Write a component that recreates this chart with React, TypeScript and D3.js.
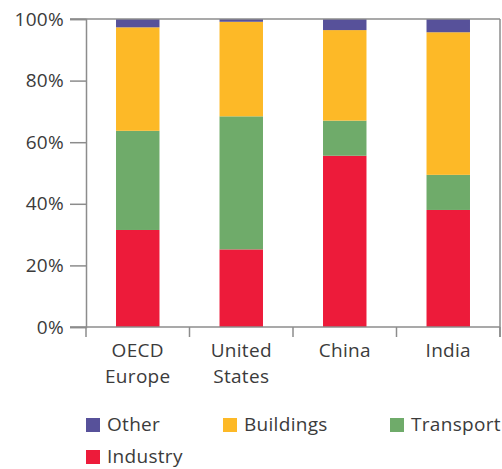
import React, { useRef, useEffect } from 'react';
import * as d3 from 'd3';

const categories = ['OECD Europe', 'United States', 'China', 'India'];
const categoryLines = [['OECD', 'Europe'], ['United', 'States'], ['China'], ['India']];
const seriesNames = ['Industry', 'Transport', 'Buildings', 'Other'];
const industry = [31.5, 25.2, 55.6, 38.0];
const transport = [32.2, 43.2, 11.4, 11.4];
const buildings = [33.6, 30.7, 29.4, 46.3];
const other = [2.7, 0.9, 3.6, 4.3];
const yTicks = [0, 20, 40, 60, 80, 100];
const legendOrder = ['Other', 'Buildings', 'Transport', 'Industry'];

const colors = {
  Industry: '#ED1B3A',
  Transport: '#6FAB6A',
  Buildings: '#FDB927',
  Other: '#57519A',
};

const width = 502;
const height = 469;
const left = 86;
const right = 500;
const top = 19;
const bottom = 327;
const font = '"Open Sans", sans-serif';
const fontSize = '19px';
const spacing = '0.3px';
const textColor = '#3b3b3b';
const axisColor = '#8c8c8c';

const App = () => {
  const svgRef = useRef(null);

  useEffect(() => {
    const svg = d3.select(svgRef.current);
    svg.selectAll('*').remove();

    const rows = categories.map((c, i) => ({
      name: c,
      Industry: industry[i],
      Transport: transport[i],
      Buildings: buildings[i],
      Other: other[i],
    }));

    const xScale = d3.scaleBand()
      .domain(categories)
      .range([left, right])
      .paddingInner(0.58)
      .paddingOuter(0.29);

    const band = d3.scaleBand().domain(categories).range([left, right]);

    const yScale = d3.scaleLinear()
      .domain([0, 100])
      .range([bottom, top]);

    const stack = d3.stack().keys(seriesNames);
    const layers = stack(rows as any);

    svg.append('g')
      .selectAll('g')
      .data(layers)
      .enter()
      .append('g')
      .attr('fill', d => colors[d.key])
      .selectAll('rect')
      .data(d => d)
      .enter()
      .append('rect')
      .attr('x', d => xScale(d.data.name))
      .attr('y', d => yScale(d[1]))
      .attr('width', xScale.bandwidth())
      .attr('height', d => yScale(d[0]) - yScale(d[1]));

    // frame
    svg.append('line')
      .attr('x1', 70).attr('x2', right)
      .attr('y1', top).attr('y2', top)
      .attr('stroke', axisColor).attr('stroke-width', 1.5);
    svg.append('line')
      .attr('x1', right).attr('x2', right)
      .attr('y1', top).attr('y2', bottom + 10)
      .attr('stroke', axisColor).attr('stroke-width', 1.5);

    const yAxis = d3.axisLeft(yScale)
      .tickValues(yTicks)
      .tickSize(16)
      .tickPadding(6)
      .tickFormat(d => `${d}%`);

    const yg = svg.append('g')
      .attr('transform', `translate(${left}, 0)`)
      .call(yAxis);
    yg.select('.domain').attr('stroke', axisColor).attr('stroke-width', 1.5);
    yg.selectAll('.tick line').attr('stroke', axisColor).attr('stroke-width', 1.5);
    yg.selectAll('.tick text')
      .attr('fill', textColor)
      .style('font-family', font)
      .style('font-size', fontSize)
      .style('letter-spacing', spacing);

    // bottom axis with ticks on band boundaries
    svg.append('line')
      .attr('x1', 70).attr('x2', right)
      .attr('y1', bottom).attr('y2', bottom)
      .attr('stroke', axisColor).attr('stroke-width', 1.5);
    const bounds = categories.map(c => band(c)).concat([right]);
    svg.selectAll('.xtick')
      .data(bounds)
      .enter()
      .append('line')
      .attr('x1', d => d).attr('x2', d => d)
      .attr('y1', bottom).attr('y2', bottom + 10)
      .attr('stroke', axisColor).attr('stroke-width', 1.5);

    const labels = svg.append('g');
    categories.forEach((c, i) => {
      const cx = xScale(c) + xScale.bandwidth() / 2;
      const t = labels.append('text')
        .attr('x', cx)
        .attr('y', 357)
        .attr('text-anchor', 'middle')
        .attr('fill', textColor)
        .style('font-family', font)
        .style('font-size', fontSize)
        .style('letter-spacing', spacing);
      categoryLines[i].forEach((line, j) => {
        t.append('tspan')
          .attr('x', cx)
          .attr('dy', j === 0 ? 0 : 26)
          .text(line);
      });
    });

    // legend
    const legendPos = [[86, 418], [223, 418], [390, 418], [86, 450]];
    const legend = svg.append('g');
    legendOrder.forEach((name, i) => {
      const [lx, ly] = legendPos[i];
      legend.append('rect')
        .attr('x', lx).attr('y', ly)
        .attr('width', 14).attr('height', 14)
        .attr('fill', colors[name]);
      legend.append('text')
        .attr('x', lx + 21).attr('y', ly + 13)
        .attr('fill', textColor)
        .style('font-family', font)
        .style('font-size', fontSize)
        .style('letter-spacing', spacing)
        .text(name);
    });
  }, []);

  return (
    <svg ref={svgRef} width={width} height={height}
      style={{ position: 'absolute', left: 0, top: 0, background: 'white' }} />
  );
};

export default App;
